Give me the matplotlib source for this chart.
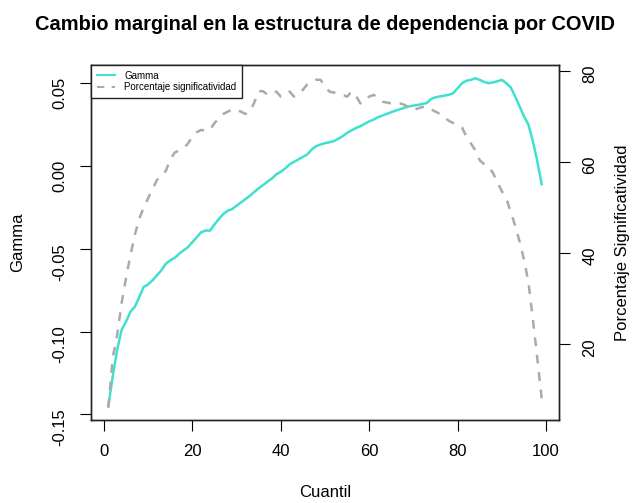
import matplotlib
matplotlib.use("Agg")
import matplotlib.pyplot as plt
import numpy as np

plt.rcParams['font.family'] = ['Liberation Sans', 'DejaVu Sans']
plt.rcParams['axes.unicode_minus'] = False

# cuantiles 1..99
cuantil = list(range(1, 100))

# Gamma (eje izquierdo)
gamma = [-0.145, -0.127, -0.111, -0.099, -0.094, -0.088, -0.085, -0.079, -0.073, -0.0715,
         -0.069, -0.066, -0.063, -0.059, -0.057, -0.0555, -0.053, -0.051, -0.049, -0.046,
         -0.043, -0.040, -0.039, -0.039, -0.0353, -0.032, -0.029, -0.027, -0.026, -0.024,
         -0.022, -0.020, -0.018, -0.0157, -0.0135, -0.0115, -0.0095, -0.0075, -0.005, -0.0035,
         -0.0015, 0.001, 0.0025, 0.004, 0.0055, 0.007, 0.010, 0.012, 0.013, 0.0138,
         0.0143, 0.015, 0.0165, 0.018, 0.020, 0.0215, 0.023, 0.024, 0.0255, 0.027,
         0.028, 0.0295, 0.0305, 0.0315, 0.0325, 0.0335, 0.0343, 0.0352, 0.036, 0.0365,
         0.0369, 0.0374, 0.038, 0.0405, 0.0415, 0.042, 0.0425, 0.043, 0.044, 0.047,
         0.050, 0.0515, 0.052, 0.053, 0.052, 0.0508, 0.050, 0.0505, 0.0512, 0.052,
         0.050, 0.0475, 0.042, 0.036, 0.030, 0.025, 0.015, 0.003, -0.011]

# Porcentaje significatividad (eje derecho)
porcentaje = [6.0, 17, 22, 29, 34.5, 39.5, 44, 47.5, 50, 52,
              54, 56, 57, 58, 60.5, 62, 62.5, 63, 64, 65.5,
              66.5, 67, 66.8, 67, 68.5, 69.5, 70.5, 71, 71.5, 71.4,
              71, 70.5, 71, 73, 75.5, 75.5, 74.7, 75.2, 75.4, 74.3,
              75, 75.4, 74.3, 75, 75.8, 77, 77.5, 78, 78, 76.5,
              75.4, 75.2, 75, 74.7, 74.3, 75.4, 74.5, 72.8, 73.9, 74.3,
              74.7, 74, 73.2, 73, 72.8, 72.8, 72.8, 72.5, 71.8, 71.4,
              71.7, 72, 72.1, 71.5, 71, 70.5, 69.8, 69, 68.5, 68.1,
              67.5, 65.5, 64, 62.5, 60.3, 59.5, 59, 57.5, 55.5, 53.5,
              52, 49, 46, 42.5, 38.5, 33.6, 25.5, 17, 8]

x_ticks = [0, 20, 40, 60, 80, 100]
gamma_ticks = [-0.15, -0.10, -0.05, 0.00, 0.05]
pct_ticks = [20, 40, 60, 80]

fig = plt.figure(figsize=(6.32, 5.03), dpi=100)
ax = fig.add_axes([0.144, 0.165, 0.7405, 0.7058])

ax.plot(cuantil, gamma, color='#40E0D0', lw=1.8, label='Gamma')
ax.set_xlim(-2.92, 102.92)
ax.set_ylim(-0.1534, 0.0610)
ax.set_xticks(x_ticks)
ax.set_yticks(gamma_ticks)
ax.set_yticklabels(['%.2f' % v for v in gamma_ticks])
ax.tick_params(direction='out', length=8, width=0.8, labelsize=12, pad=9)
ax.tick_params(axis='y', labelrotation=90)

ax2 = ax.twinx()
ax2.plot(cuantil, porcentaje, color='#AAAAAA', lw=1.8, ls=(0, (3.5, 3.5)),
         label='Porcentaje significatividad')
ax2.set_ylim(3.3, 81.25)
ax2.set_yticks(pct_ticks)
ax2.tick_params(direction='out', length=8, width=0.8, labelsize=12, pad=9)
ax2.tick_params(axis='y', labelrotation=90)

for a in (ax, ax2):
    for s in a.spines.values():
        s.set_linewidth(1.0)
        s.set_color('#222222')

ax.set_xlabel('Cuantil', fontsize=12)
ax.xaxis.label.set_va('center')
ax.xaxis.set_label_coords(0.5, -0.2056)
ax.set_ylabel('Gamma', fontsize=12)
ax.yaxis.label.set_va('center')
ax.yaxis.set_label_coords(-0.156, 0.5)
ax2.set_ylabel('Porcentaje Significatividad', fontsize=12)
ax2.yaxis.label.set_va('center')
ax2.yaxis.set_label_coords(1.135, 0.5)

fig.text(0.5142, 1 - 25 / 503, 'Cambio marginal en la estructura de dependencia por COVID',
         fontsize=14.4, fontweight='bold', ha='center', va='center')

h1, l1 = ax.get_legend_handles_labels()
h2, l2 = ax2.get_legend_handles_labels()
leg = ax2.legend(h1 + h2, l1 + l2, loc='upper left', bbox_to_anchor=(0, 1),
                 borderaxespad=0, fontsize=7, fancybox=False, framealpha=1,
                 edgecolor='#222222', handlelength=1.9, handletextpad=0.9,
                 labelspacing=0.15, borderpad=0.6)
leg.get_frame().set_linewidth(1.0)
for line in leg.get_lines():
    line.set_linewidth(1.5)

fig.savefig('out.png', dpi=100)
